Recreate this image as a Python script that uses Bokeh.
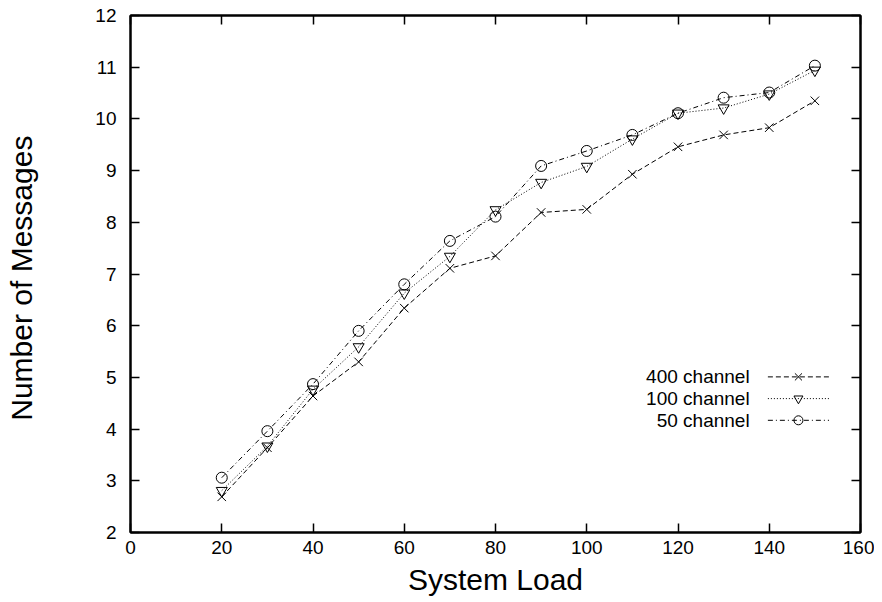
from bokeh.plotting import figure
from bokeh.models import Range1d, LinearAxis, SingleIntervalTicker
from bokeh.core.properties import value
from bokeh.embed import file_html
from bokeh.resources import INLINE

load = [20, 30, 40, 50, 60, 70, 80, 90, 100, 110, 120, 130, 140, 150]
ch400 = [2.69, 3.64, 4.64, 5.30, 6.34, 7.11, 7.35, 8.19, 8.25, 8.93, 9.46, 9.69, 9.83, 10.35]
ch100 = [2.81, 3.67, 4.77, 5.59, 6.63, 7.34, 8.24, 8.77, 9.08, 9.61, 10.11, 10.21, 10.48, 10.94]
ch50 = [3.06, 3.96, 4.87, 5.90, 6.80, 7.64, 8.11, 9.09, 9.38, 9.69, 10.11, 10.41, 10.51, 11.03]
series_names = ["400 channel", "100 channel", "50 channel"]

FONT = "Liberation Sans"

p = figure(width=874, height=600, output_backend="svg", toolbar_location=None,
           x_range=Range1d(0, 160), y_range=Range1d(2, 12),
           min_border_left=130, min_border_right=14, min_border_top=15, min_border_bottom=68)
p.xgrid.visible = False
p.ygrid.visible = False
p.outline_line_color = "black"
p.outline_line_width = 2
p.background_fill_color = "white"
p.border_fill_color = "white"

p.xaxis.ticker = SingleIntervalTicker(interval=20, num_minor_ticks=0)
p.yaxis.ticker = SingleIntervalTicker(interval=1, num_minor_ticks=0)

def style_axis(ax, labels=True):
    ax.axis_line_color = "black"
    ax.axis_line_width = 2
    ax.major_tick_in = 9
    ax.major_tick_out = 0
    ax.major_tick_line_color = "black"
    ax.major_tick_line_width = 1.5
    ax.minor_tick_line_color = None
    ax.major_label_text_font = FONT
    ax.major_label_text_font_size = "19px"
    ax.major_label_text_color = "black"
    if not labels:
        ax.major_label_text_color = None
        ax.major_label_text_font_size = "0px"

for ax in p.xaxis + p.yaxis:
    style_axis(ax)

p.xaxis.major_label_standoff = 8
p.yaxis.major_label_standoff = 14
p.xaxis.axis_label = "System Load"
p.yaxis.axis_label = "Number of  Messages"
for ax in p.xaxis + p.yaxis:
    ax.axis_label_text_font = FONT
    ax.axis_label_text_font_size = "30px"
    ax.axis_label_text_font_style = "normal"
    ax.axis_label_text_color = "black"
p.xaxis.axis_label_standoff = 6
p.yaxis.axis_label_standoff = 54

top = LinearAxis(ticker=SingleIntervalTicker(interval=20, num_minor_ticks=0))
right = LinearAxis(ticker=SingleIntervalTicker(interval=1, num_minor_ticks=0))
style_axis(top, labels=False)
style_axis(right, labels=False)
p.add_layout(top, "above")
p.add_layout(right, "right")

dashes = ["5 3", "1 2", "5 3 1 3"]
markers = ["x", "inverted_triangle", "circle"]
sizes = [12, 11, 11]
leg_sizes = [10, 9, 9]
data = [ch400, ch100, ch50]

for ys, d, m, s in zip(data, dashes, markers, sizes):
    p.line(load, ys, line_color="black", line_width=1, line_dash=d)
    p.scatter(load, ys, marker=m, size=s, line_color="black", fill_color=None, line_width=1)

# legend (gnuplot style: text then sample)
leg_y = [5.01, 4.59, 4.17]
p.text(x=[135.7] * 3, y=leg_y, text=series_names, text_align="right", text_baseline="middle",
       text_font=value(FONT), text_font_size="19px", text_color="black")
for yy, d, m, s in zip(leg_y, dashes, markers, leg_sizes):
    p.line([139.7, 153.1], [yy, yy], line_color="black", line_width=1, line_dash=d)
    p.scatter([146.4], [yy], marker=m, size=s, line_color="black", fill_color=None, line_width=1)

open("out.html", "w").write(file_html(p, INLINE))
